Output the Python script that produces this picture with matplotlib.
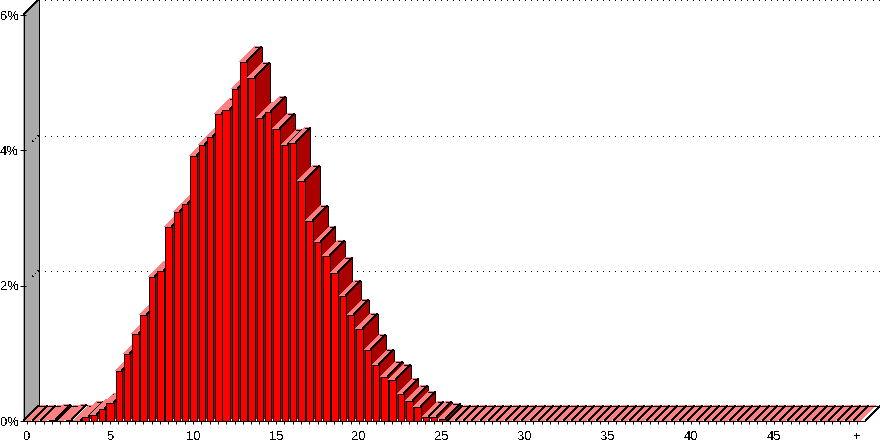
import matplotlib
matplotlib.use("Agg")
import matplotlib.pyplot as plt
import numpy as np

plt.rcParams["font.family"] = ["Liberation Sans", "DejaVu Sans"]
plt.rcParams["text.antialiased"] = False

# percent per half-unit class, last class is the overflow "+"
values = [
    0.0, 0.0, 0.0, 0.02, 0.0, 0.02, 0.01, 0.06, 0.09, 0.19,
    0.27, 0.75, 1.00, 1.29, 1.58, 2.13, 2.22, 2.88, 3.10, 3.22,
    3.93, 4.09, 4.21, 4.55, 4.61, 4.92, 5.31, 5.07, 4.49, 4.57,
    4.32, 4.09, 4.12, 3.55, 2.97, 2.65, 2.45, 2.19, 1.86, 1.57,
    1.36, 1.05, 0.83, 0.66, 0.61, 0.41, 0.30, 0.21, 0.07, 0.06,
    0.03,
] + [0.0] * 50
x_labels = ["0", "5", "10", "15", "20", "25", "30", "35", "40", "45", "+"]
y_ticks = [0, 2, 4, 6]
y_labels = ["0%", "2%", "4%", "6%"]

W, H = 880, 443
PX_X = 8.3    # pixels per class
PX_Y = 67.67  # pixels per percent
DX = 15 / PX_X
DY = 15 / PX_Y
BAR = 6.5 / PX_X
XMIN = -4 / PX_X
XMAX = 838 / PX_X
LW = 0.5
DIAG_LW = 0.28

RED = "#ff0000"
DARK = "#aa0000"
PINK = "#ff8080"
GREY = "#aaaaaa"


def sx(x):
    # move a class position onto a pixel centre so the 45 degree edges stay one pixel wide
    return (np.floor(27 + x * PX_X) + 0.5 - 27) / PX_X


def sy(y):
    return (np.floor(22 + y * PX_Y) + 0.5 - 22) / PX_Y


def poly(ax, xs, ys, color, z=2):
    ax.fill(xs, ys, facecolor=color, edgecolor="none", linewidth=0,
            antialiased=False, clip_on=False, zorder=z)


def seg(ax, xs, ys, z=2, lw=LW, **kw):
    ax.plot(xs, ys, color="black", lw=lw, antialiased=False, clip_on=False, zorder=z,
            solid_capstyle="butt", **kw)


def main() -> None:
    fig = plt.figure(figsize=(W / 100, H / 100), dpi=100)
    ax = fig.add_axes([23 / W, 1 - 421 / H, (865 - 23) / W, (421 - 15) / H])
    ax.set_xlim(XMIN, XMAX)
    ax.set_ylim(0, 6)

    # left wall
    left = sx(XMIN)
    base = sy(0)
    poly(ax, [left, left + DX, left + DX, left], [base, base + DY, sy(6) + DY, sy(6)], GREY, z=1)
    seg(ax, [left, left], [base, sy(6)], z=1)
    seg(ax, [left + DX, left + DX], [base + DY, sy(6) + DY], z=1)
    seg(ax, [left, left + DX], [sy(6), sy(6) + DY], z=1, lw=DIAG_LW)

    # back wall gridlines
    for t in y_ticks[1:]:
        seg(ax, [left + DX, XMAX + DX], [sy(t) + DY, sy(t) + DY], z=1, linestyle=(0, (1, 7.64)))
        if t < 6:
            seg(ax, [left + 0.6 * DX, left + DX], [sy(t) + 0.6 * DY, sy(t) + DY], z=1,
                lw=DIAG_LW, linestyle=(0, (2, 8)))

    # floor edges
    seg(ax, [left, left + DX], [base, base + DY], z=1, lw=DIAG_LW)
    seg(ax, [sx(XMAX), sx(XMAX) + DX], [base, base + DY], z=8, lw=DIAG_LW)

    for i, v in enumerate(values):
        x0 = sx(i - BAR / 2)
        x1 = sx(i + BAR / 2)
        z = 3 + i * 0.01
        if v == 0:
            # empty class: pink floor tile, one black edge, white gap to the next tile
            inner = x0 + 2 / PX_X
            poly(ax, [inner, inner + DX, x1 + DX, x1], [base, base + DY, base + DY, base], PINK, z=z)
            seg(ax, [x0, x0 + DX], [base, base + DY], z=z, lw=DIAG_LW)
            seg(ax, [x0 + DX, sx(i + 1 - BAR / 2) + DX], [base + DY, base + DY], z=z)
            continue
        y = sy(v)
        poly(ax, [x1, x1 + DX, x1 + DX, x1], [base, base + DY, y + DY, y], DARK, z=z)
        poly(ax, [x0, x0 + DX, x1 + DX, x1], [y, y + DY, y + DY, y], PINK, z=z)
        poly(ax, [x0, x1, x1, x0], [base, base, y, y], RED, z=z)
        seg(ax, [x1, x1 + DX], [y, y + DY], z=z, lw=DIAG_LW)
        seg(ax, [x0 + DX, x1 + DX, x1 + DX], [y + DY, y + DY, base + DY], z=z)
        seg(ax, [x0, x0, x1, x1, x0], [base, y, y, base, base], z=z)

    for side in ("top", "right", "left"):
        ax.spines[side].set_visible(False)
    ax.spines["bottom"].set_linewidth(0.72)
    ax.spines["bottom"].set_zorder(10)
    ax.spines["bottom"].set_antialiased(False)

    ax.set_xticks(np.arange(0, 101, 10))
    ax.set_xticklabels(x_labels, fontsize=9.4)
    ax.set_xticks(np.arange(0, 101), minor=True)
    ax.set_yticks(y_ticks)
    ax.set_yticklabels(y_labels, fontsize=9.4)
    ax.tick_params(axis="x", which="both", length=2.5, width=0.72, pad=5.0)
    ax.tick_params(axis="y", length=4.5, width=0.72, direction="inout", pad=0.6)

    fig.savefig("out.png", dpi=100)


if __name__ == "__main__":
    main()
